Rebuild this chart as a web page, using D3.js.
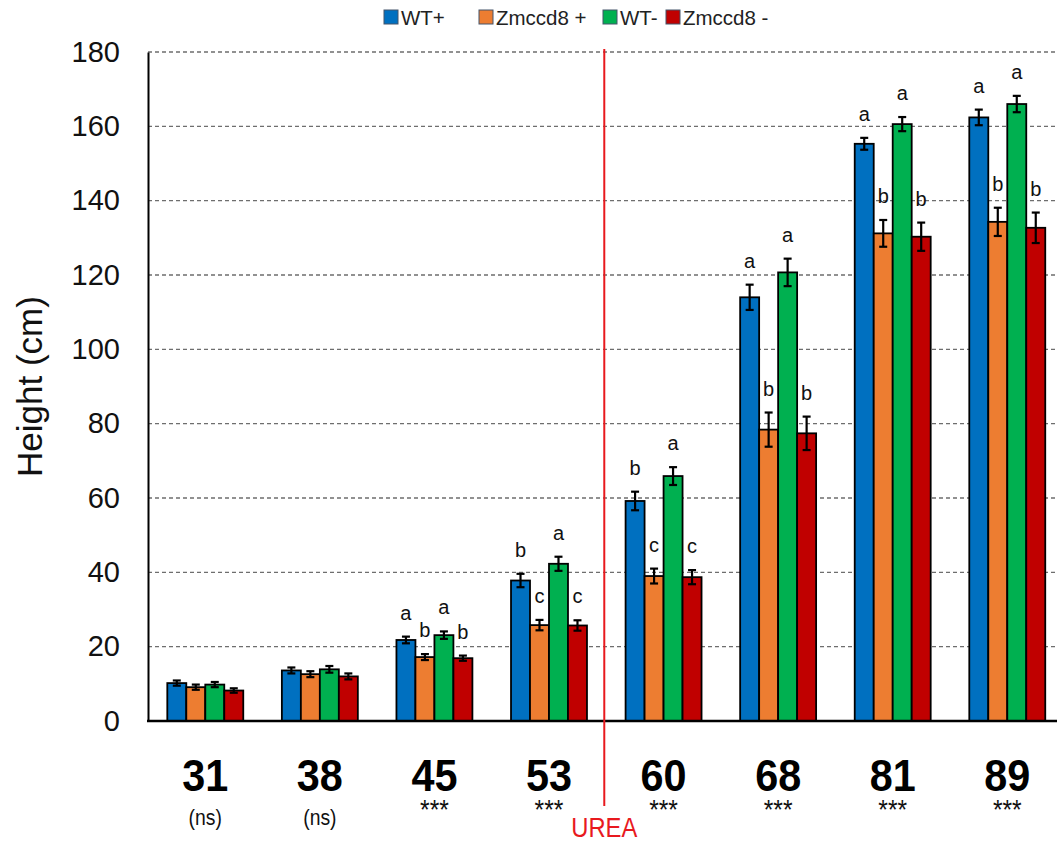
<!DOCTYPE html>
<html>
<head>
<meta charset="utf-8">
<script src="https://cdn.jsdelivr.net/npm/d3@7"></script>
<style>
  html, body { margin: 0; padding: 0; background: #fff; }
  svg { display: block; font-family: "Liberation Sans", Arial, sans-serif; }
</style>
</head>
<body>
<svg id="chart" width="1057" height="843"></svg>
<script>
// Days after sowing
const days = ["31", "38", "45", "53", "60", "68", "81", "89"];
const significance = ["(ns)", "(ns)", "***", "***", "***", "***", "***", "***"];
const seriesNames = ["WT+", "Zmccd8 +", "WT-", "Zmccd8 -"];
const seriesColors = ["#0070C0", "#ED7D31", "#00B050", "#C00000"];

// Mean plant height (cm) per series
const wtPlus      = [10.2, 13.6, 21.8, 37.8, 59.2, 114.0, 155.3, 162.4];
const zmccd8Plus  = [9.1, 12.6, 17.2, 25.8, 39.0, 78.4, 131.2, 134.3];
const wtMinus     = [9.8, 13.9, 23.1, 42.3, 65.9, 120.7, 160.6, 166.0];
const zmccd8Minus = [8.2, 12.0, 16.9, 25.7, 38.7, 77.4, 130.3, 132.7];

// Standard errors
const errWtPlus      = [0.7, 0.8, 0.9, 1.8, 2.5, 3.4, 1.6, 2.1];
const errZmccd8Plus  = [0.7, 0.8, 0.8, 1.4, 2.0, 4.6, 3.6, 3.8];
const errWtMinus     = [0.7, 0.9, 1.0, 1.9, 2.4, 3.7, 1.9, 2.2];
const errZmccd8Minus = [0.6, 0.8, 0.7, 1.4, 1.9, 4.5, 3.8, 4.1];

// Letters from the post-hoc test (empty = not shown)
const lettersWtPlus      = ["", "", "a", "b", "b", "a", "a", "a"];
const lettersZmccd8Plus  = ["", "", "b", "c", "c", "b", "b", "b"];
const lettersWtMinus     = ["", "", "a", "a", "a", "a", "a", "a"];
const lettersZmccd8Minus = ["", "", "b", "c", "c", "b", "b", "b"];

const yTicks = [0, 20, 40, 60, 80, 100, 120, 140, 160, 180];
const treatmentStart = "60"; // first day after urea application

const values = [wtPlus, zmccd8Plus, wtMinus, zmccd8Minus];
const errors = [errWtPlus, errZmccd8Plus, errWtMinus, errZmccd8Minus];
const letters = [lettersWtPlus, lettersZmccd8Plus, lettersWtMinus, lettersZmccd8Minus];

const svg = d3.select("#chart");
const plotLeft = 148, plotTop = 52, plotBottom = 721;
const step = 114.57;
const plotRight = plotLeft + step * days.length;

const x = d3.scaleBand().domain(days).range([plotLeft, plotRight])
  .paddingInner(0.337).paddingOuter(0.1685);
const xs = d3.scaleBand().domain(d3.range(seriesNames.length)).range([0, x.bandwidth()]);
const y = d3.scaleLinear().domain([0, 180]).range([plotBottom, plotTop]);

// Horizontal dashed gridlines
svg.append("g").selectAll("line").data(yTicks.filter(d => d > 0)).join("line")
  .attr("x1", plotLeft).attr("x2", 1057)
  .attr("y1", d => y(d)).attr("y2", d => y(d))
  .attr("stroke", "#6e6e6e").attr("stroke-width", 1.3)
  .attr("stroke-dasharray", "4,3");

// Y axis
const yAxis = svg.append("g").attr("transform", `translate(${plotLeft},0)`)
  .call(d3.axisLeft(y).tickValues(yTicks).tickSize(0).tickPadding(28));
yAxis.select(".domain").attr("stroke", "#000").attr("stroke-width", 2);
yAxis.selectAll("text").attr("font-size", 29).attr("fill", "#111")
  .attr("font-family", "Liberation Sans, Arial, sans-serif");

svg.append("text")
  .attr("transform", `translate(42,${(plotTop + plotBottom) / 2}) rotate(-90)`)
  .attr("text-anchor", "middle").attr("font-size", 35).attr("fill", "#111")
  .text("Height (cm)");

// Bars, error bars and letters
const groups = svg.append("g").selectAll("g").data(days).join("g")
  .attr("transform", d => `translate(${x(d)},0)`);

groups.each(function (day, i) {
  const g = d3.select(this);
  seriesNames.forEach((name, s) => {
    const v = values[s][i], e = errors[s][i];
    const bx = xs(s), bw = xs.bandwidth();
    g.append("rect")
      .attr("x", bx).attr("width", bw)
      .attr("y", y(v)).attr("height", y(0) - y(v))
      .attr("fill", seriesColors[s]).attr("stroke", "#000").attr("stroke-width", 1.8);
    const cx = bx + bw / 2;
    g.append("line").attr("x1", cx).attr("x2", cx)
      .attr("y1", y(v - e)).attr("y2", y(v + e))
      .attr("stroke", "#000").attr("stroke-width", 2.2);
    [v - e, v + e].forEach(t => g.append("line")
      .attr("x1", cx - 4).attr("x2", cx + 4)
      .attr("y1", y(t)).attr("y2", y(t))
      .attr("stroke", "#000").attr("stroke-width", 2.2));
    if (letters[s][i]) {
      g.append("text").attr("x", cx).attr("y", y(v + e) - 17)
        .attr("text-anchor", "middle").attr("font-size", 20).attr("fill", "#111")
        .text(letters[s][i]);
    }
  });
});

// X axis baseline
svg.append("line").attr("x1", plotLeft - 1).attr("x2", 1057)
  .attr("y1", y(0)).attr("y2", y(0))
  .attr("stroke", "#000").attr("stroke-width", 2.6);

// Day labels and significance marks
const xl = svg.append("g").selectAll("g").data(days).join("g")
  .attr("transform", d => `translate(${x(d) + x.bandwidth() / 2},0)`);
xl.append("text").attr("y", 791).attr("text-anchor", "middle")
  .attr("font-size", 45).attr("font-weight", "bold").attr("fill", "#000")
  .attr("transform", "scale(0.92,1)")
  .text(d => d);
xl.append("text")
  .attr("y", (d, i) => significance[i] === "***" ? 819 : 825)
  .attr("text-anchor", "middle")
  .attr("font-size", (d, i) => significance[i] === "***" ? 28 : 22)
  .attr("fill", "#111")
  .attr("transform", "scale(0.88,1)")
  .text((d, i) => significance[i]);

// Urea application marker
const ureaX = x(treatmentStart) - x.step() * x.paddingInner() / 2 - 2;
svg.append("line").attr("x1", ureaX).attr("x2", ureaX)
  .attr("y1", plotTop - 3).attr("y2", 806)
  .attr("stroke", "#e8191e").attr("stroke-width", 2);
svg.append("text").attr("x", ureaX / 0.85).attr("y", 837)
  .attr("text-anchor", "middle").attr("font-size", 28).attr("fill", "#e8191e")
  .attr("transform", "scale(0.85,1)")
  .text("UREA");

// Legend
const legendX = [384, 479, 603, 666];
const legend = svg.append("g").selectAll("g").data(seriesNames).join("g")
  .attr("transform", (d, i) => `translate(${legendX[i]},10)`);
legend.append("rect").attr("width", 14).attr("height", 14)
  .attr("fill", (d, i) => seriesColors[i]).attr("stroke", "#44546A").attr("stroke-width", 1);
legend.append("text").attr("x", 17).attr("y", 15)
  .attr("font-size", 20.5).attr("fill", "#222").text(d => d);
</script>
</body>
</html>
